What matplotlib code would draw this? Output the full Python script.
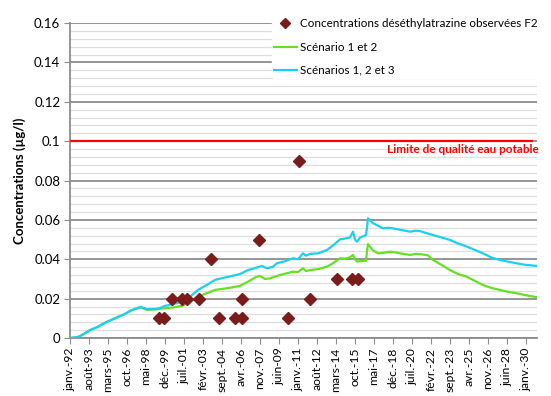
import matplotlib
matplotlib.use("Agg")
import matplotlib.pyplot as plt
from matplotlib.ticker import MultipleLocator
from matplotlib.lines import Line2D

plt.rcParams['font.family'] = ['Lato', 'DejaVu Sans']

# x positions are months since janv. 1992
tick_labels = ["janv.-92", "août-93", "mars-95", "oct.-96", "mai-98", "déc.-99", "juil.-01",
               "févr.-03", "sept.-04", "avr.-06", "nov.-07", "juin-09", "janv.-11", "août-12",
               "mars-14", "oct.-15", "mai-17", "déc.-18", "juil.-20", "févr.-22", "sept.-23",
               "avr.-25", "nov.-26", "juin-28", "janv.-30"]
tick_months = [19 * i for i in range(len(tick_labels))]

obs_months = [89, 94, 102, 112, 117, 129, 141, 149, 165, 172, 172, 189, 218, 229, 240, 267, 282, 288]
obs_values = [0.01, 0.01, 0.02, 0.02, 0.02, 0.02, 0.04, 0.01, 0.01, 0.01, 0.02, 0.05,
              0.01, 0.09, 0.02, 0.03, 0.03, 0.03]

s123_months = [0, 8, 12, 20, 28, 36, 45, 54, 62, 71, 74, 77, 85, 90, 95, 103, 112, 120, 128, 137,
               145, 153, 162, 170, 178, 185, 192, 197, 203, 207, 215, 223, 228, 233, 236, 240,
               248, 257, 263, 270, 275, 280, 283, 285, 287, 290, 296, 297, 298, 303, 308, 313,
               318, 323, 328, 333, 340, 346, 350, 355, 363, 372, 380, 388, 397, 405, 413, 421,
               430, 438, 447, 455, 467]
s123_values = [0.0, 0.0005, 0.0015, 0.004, 0.0057, 0.008, 0.010, 0.012, 0.0142, 0.0157, 0.0152,
               0.0147, 0.0147, 0.0152, 0.0163, 0.0172, 0.0184, 0.021, 0.0244, 0.027, 0.0295,
               0.0305, 0.0315, 0.0325, 0.0345, 0.0355, 0.0366, 0.0354, 0.0362, 0.038, 0.039,
               0.0405, 0.040, 0.043, 0.0418, 0.0427, 0.043, 0.0447, 0.047, 0.0501, 0.0505,
               0.0511, 0.054, 0.050, 0.0489, 0.051, 0.0523, 0.056, 0.0608, 0.0583, 0.057,
               0.0557, 0.056, 0.0557, 0.0552, 0.0547, 0.054, 0.0545, 0.0543, 0.0535, 0.0523,
               0.051, 0.0498, 0.048, 0.0464, 0.0447, 0.043, 0.041, 0.0396, 0.0388, 0.0379,
               0.0372, 0.0366]

s12_months = [0, 8, 12, 20, 28, 36, 45, 54, 62, 71, 74, 77, 85, 95, 103, 112, 120, 128, 137,
              145, 153, 162, 170, 178, 186, 190, 195, 200, 210, 223, 228, 233, 236, 240, 248,
              257, 263, 270, 275, 280, 283, 285, 287, 290, 296, 297, 298, 303, 308, 313, 320,
              325, 330, 340, 346, 352, 358, 363, 372, 380, 388, 397, 405, 413, 421, 430, 438,
              447, 455, 467]
s12_values = [0.0, 0.0005, 0.0015, 0.004, 0.0057, 0.008, 0.010, 0.012, 0.0142, 0.0157, 0.0148,
              0.0143, 0.0145, 0.0151, 0.0155, 0.0163, 0.0185, 0.021, 0.0228, 0.0244, 0.025,
              0.0257, 0.0265, 0.0286, 0.031, 0.0315, 0.030, 0.0303, 0.032, 0.0337, 0.0335,
              0.0354, 0.034, 0.0345, 0.035, 0.0362, 0.038, 0.0405, 0.0403, 0.041, 0.0422,
              0.040, 0.0388, 0.039, 0.0393, 0.044, 0.0477, 0.0445, 0.043, 0.0432, 0.0438,
              0.0435, 0.043, 0.0422, 0.0427, 0.0425, 0.042, 0.0396, 0.037, 0.0345, 0.0325,
              0.0311, 0.029, 0.0269, 0.0255, 0.0244, 0.0235, 0.0227, 0.0218, 0.0207]

limit_value = 0.1

fig = plt.figure(figsize=(5.51, 3.96), dpi=100)
ax = fig.add_axes([70 / 551, 58 / 396, 467 / 551, 315 / 396])

ax.set_xlim(0, 467)
ax.set_ylim(0, 0.16)

ax.yaxis.set_major_locator(MultipleLocator(0.02))
ax.yaxis.set_minor_locator(MultipleLocator(0.004))
ax.grid(which='major', axis='y', color='#8c8c8c', linewidth=1.3, zorder=0)
ax.grid(which='minor', axis='y', color='#dedede', linewidth=0.9, zorder=0)
ax.set_axisbelow(True)

ax.set_yticks([0, 0.02, 0.04, 0.06, 0.08, 0.1, 0.12, 0.14, 0.16])
ax.set_yticklabels(["0", "0.02", "0.04", "0.06", "0.08", "0.1", "0.12", "0.14", "0.16"],
                   fontsize=9.5)
ax.tick_params(axis='y', which='major', length=4, color='#8c8c8c', pad=3)
ax.tick_params(axis='y', which='minor', length=0)

ax.set_xticks(tick_months)
ax.set_xticklabels(tick_labels, rotation=90, fontsize=8.7)
ax.tick_params(axis='x', length=4, color='#8c8c8c', pad=3)

for s in ['top', 'right']:
    ax.spines[s].set_visible(False)
ax.spines['left'].set_color('#8c8c8c')
ax.spines['left'].set_linewidth(1.3)
ax.spines['bottom'].set_color('#8c8c8c')
ax.spines['bottom'].set_linewidth(1.3)

ax.plot([0, 462], [limit_value, limit_value], color='#ff0000', linewidth=1.6, zorder=3)
ax.text(469, limit_value - 0.0015, "Limite de qualité eau potable", color='#ff0000',
        fontsize=8.5, fontweight='bold', ha='right', va='top', zorder=4)

ax.plot(s12_months, s12_values, color='#66e020', linewidth=1.6, zorder=3)
ax.plot(s123_months, s123_values, color='#1ad0f0', linewidth=1.6, zorder=4)
ax.plot(obs_months, obs_values, linestyle='none', marker='D', markersize=6.5,
        color='#7b1c1c', zorder=5)

ax.set_ylabel("Concentrations (µg/l)", fontsize=9.5, fontweight='bold', labelpad=6)

handles = [
    Line2D([], [], linestyle='none', marker='D', markersize=5, color='#7b1c1c'),
    Line2D([], [], color='#66e020', linewidth=1.6),
    Line2D([], [], color='#1ad0f0', linewidth=1.6),
]
labels = ["Concentrations déséthylatrazine observées F2", "Scénario 1 et 2", "Scénarios 1, 2 et 3"]
leg = fig.legend(handles, labels, loc='upper left', bbox_to_anchor=(272 / 551, 1 - 16 / 396),
                 frameon=True, fontsize=8.4, handlelength=1.9, handletextpad=0.3,
                 labelspacing=1.05, borderpad=0.2, borderaxespad=0)
leg.get_frame().set_edgecolor('white')
leg.get_frame().set_facecolor('white')
leg.get_frame().set_alpha(1)

fig.savefig("out.png", dpi=100)
